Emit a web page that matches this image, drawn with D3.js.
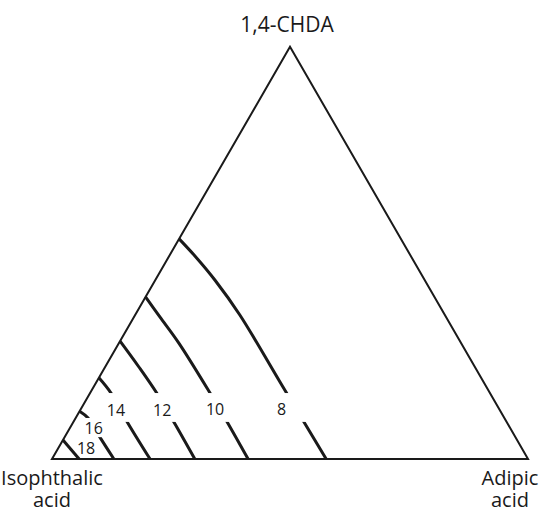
<!DOCTYPE html>
<html>
<head>
<meta charset="utf-8">
<script src="https://cdn.jsdelivr.net/npm/d3@7"></script>
<style>
  html, body { margin: 0; padding: 0; background: #fff; }
  svg { display: block; }
  text { font-family: "Open Sans", "Noto Sans", sans-serif; fill: #1a1a1a; }
</style>
</head>
<body>
<svg id="chart" width="556" height="513"></svg>
<script>
// Ternary composition: A = adipic acid fraction, C = 1,4-CHDA fraction,
// isophthalic acid is the remainder (1 - A - C).
const topTitle = ["1,4-CHDA"];
const leftTitle = ["Isophthalic", "acid"];
const rightTitle = ["Adipic", "acid"];

// Contour levels and their traces, each point as [A, C]
const levels = [8, 10, 12, 14, 16, 18];
const contour8  = [[0, 0.534], [0.054, 0.4925], [0.125, 0.4343], [0.220, 0.3493], [0.393, 0.1795], [0.576, 0]];
const contour10 = [[0, 0.393], [0.055, 0.344], [0.126, 0.281], [0.252, 0.160], [0.323, 0.090], [0.412, 0]];
const contour12 = [[0, 0.286], [0.071, 0.2232], [0.140, 0.160], [0.216, 0.0849], [0.300, 0]];
const contour14 = [[0, 0.197], [0.044, 0.160], [0.113, 0.090], [0.206, 0]];
const contour16 = [[0, 0.116], [0.026, 0.0995], [0.074, 0.053], [0.130, 0]];
const contour18 = [[0, 0.046], [0.057, 0]];
const contours = [contour8, contour10, contour12, contour14, contour16, contour18];

// CHDA band left open on each contour for its value label ([low, high]; null = none)
const labelGaps = [[0.090, 0.160], [0.090, 0.160], [0.090, 0.160], [0.090, 0.160], [0.053, 0.0995], null];
// Label anchor of each contour, as [A, C]
const labelAt = [[0.422, 0.121], [0.282, 0.121], [0.172, 0.119], [0.075, 0.119], [0.050, 0.075], [0.058, 0.027]];

const svg = d3.select("#chart");
const S3 = Math.sqrt(3) / 2;

const x = d3.scaleLinear().domain([0, 1]).range([52, 528]);
const y = d3.scaleLinear().domain([0, S3]).range([459, 459 - 476 * S3]);

// ternary [A, C] -> pixel
const proj = ([a, c]) => [x(a + c / 2), y(c * S3)];

const defs = svg.append("defs");

// Triangle frame
const corners = [[0, 0], [1, 0], [0, 1]].map(proj);
svg.append("path")
  .attr("d", d3.line()(corners) + "Z")
  .attr("fill", "none")
  .attr("stroke", "#1a1a1a")
  .attr("stroke-width", 2)
  .attr("stroke-linejoin", "miter");

// Contours, each masked where its value label sits
const line = d3.line().curve(d3.curveCatmullRom.alpha(0.5));
contours.forEach((pts, i) => {
  const gap = labelGaps[i];
  let maskId = null;
  if (gap) {
    maskId = "gap" + levels[i];
    const m = defs.append("mask").attr("id", maskId).attr("maskUnits", "userSpaceOnUse")
      .attr("x", 0).attr("y", 0).attr("width", 556).attr("height", 513);
    m.append("rect").attr("x", 0).attr("y", 0).attr("width", 556).attr("height", 513).attr("fill", "#fff");
    const yTop = y(gap[1] * S3), yBot = y(gap[0] * S3);
    m.append("rect").attr("x", 0).attr("y", yTop).attr("width", 556).attr("height", yBot - yTop).attr("fill", "#000");
  }
  const p = svg.append("path")
    .attr("d", line(pts.map(proj)))
    .attr("fill", "none")
    .attr("stroke", "#1a1a1a")
    .attr("stroke-width", 3);
  if (maskId) p.attr("mask", `url(#${maskId})`);
});

// Contour value labels
levels.forEach((lv, i) => {
  const [px, py] = proj(labelAt[i]);
  svg.append("text")
    .attr("x", px).attr("y", py)
    .attr("text-anchor", "middle")
    .attr("dominant-baseline", "central")
    .attr("font-size", 16)
    .text(lv);
});

// Vertex titles
function title(lines, cx, baseline, size) {
  lines.forEach((ln, k) => {
    svg.append("text")
      .attr("x", cx).attr("y", baseline + k * 22)
      .attr("text-anchor", "middle")
      .attr("font-size", size)
      .text(ln);
  });
}
title(topTitle, 287, 32, 21);
title(leftTitle, 52, 485, 20);
title(rightTitle, 510, 485, 20);
</script>
</body>
</html>
